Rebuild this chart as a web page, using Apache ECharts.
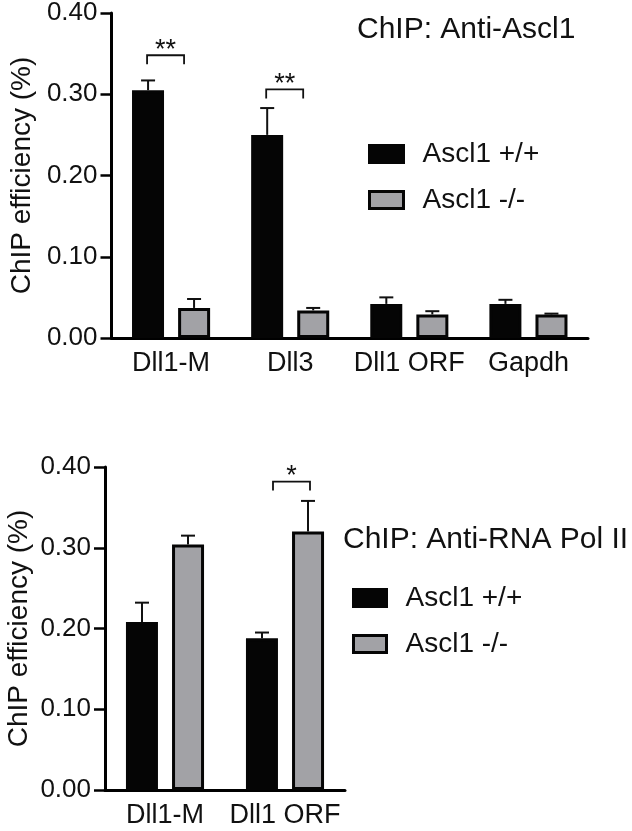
<!DOCTYPE html>
<html>
<head>
<meta charset="utf-8">
<script src="https://cdn.jsdelivr.net/npm/echarts@6/dist/echarts.min.js"></script>
<style>
  html, body { margin: 0; padding: 0; background: #fff; }
  #chart { width: 632px; height: 831px; }
</style>
</head>
<body>
<div id="chart"></div>
<script>
  // 上图：Anti-Ascl1
  var topCats = ['Dll1-M', 'Dll3', 'Dll1 ORF', 'Gapdh'];
  var topWT = [0.305, 0.250, 0.042, 0.042];
  var topWTErr = [0.012, 0.033, 0.008, 0.005];
  var topKO = [0.037, 0.034, 0.029, 0.029];
  var topKOErr = [0.011, 0.003, 0.004, 0.001];
  var topSig = [[0, 0.348, '**'], [1, 0.306, '**']];

  // 下图：Anti-RNA Pol II
  var botCats = ['Dll1-M', 'Dll1 ORF'];
  var botWT = [0.208, 0.188];
  var botWTErr = [0.024, 0.007];
  var botKO = [0.304, 0.320];
  var botKOErr = [0.011, 0.038];
  var botSig = [[1, 0.382, '*']];

  var yTicks = [0, 0.1, 0.2, 0.3, 0.4];

  var FONT = 'Liberation Sans';
  var BLACK = '#050505';
  var GRAY = '#a2a2a6';
  var BAR_W = 32;
  var BAR_OFF = 23;

  var myChart = echarts.init(document.getElementById('chart'));

  function withErr(vals, errs) {
    return vals.map(function (v, i) { return [i, v, errs[i]]; });
  }

  // 误差线（只画上半部分）
  function errRender(off) {
    return function (params, api) {
      var base = api.coord([api.value(0), api.value(1)]);
      var top = api.coord([api.value(0), api.value(1) + api.value(2)]);
      var x = base[0] + off;
      var st = { stroke: '#111', lineWidth: 2 };
      return {
        type: 'group',
        children: [
          { type: 'line', shape: { x1: x, y1: base[1], x2: x, y2: top[1] }, style: st },
          { type: 'line', shape: { x1: x - 7, y1: top[1], x2: x + 7, y2: top[1] }, style: st }
        ]
      };
    };
  }

  // 显著性标记
  function sigRender(l, r) {
    return function (params, api) {
      var p = api.coord([api.value(0), api.value(1)]);
      var y = p[1];
      var x1 = p[0] + l, x2 = p[0] + r;
      var st = { stroke: '#111', lineWidth: 1.8, fill: null };
      return {
        type: 'group',
        children: [
          { type: 'polyline', shape: { points: [[x1, y + 9], [x1, y], [x2, y], [x2, y + 9]] }, style: st },
          { type: 'text', x: (x1 + x2) / 2, y: y - 5,
            style: { text: api.value(2), fontSize: 27, fontFamily: FONT, fill: '#111', align: 'center', verticalAlign: 'middle' } }
        ]
      };
    };
  }

  function xAx(cats, gi) {
    return {
      type: 'category', gridIndex: gi, data: cats,
      axisLine: { lineStyle: { color: '#000', width: 3 } },
      axisTick: { alignWithLabel: true, interval: 0, length: 10, lineStyle: { color: '#000', width: 3 } },
      axisLabel: { interval: 0, fontSize: 27, fontFamily: FONT, color: '#111', margin: 12 }
    };
  }

  function yAx(gi) {
    return {
      type: 'value', gridIndex: gi, min: yTicks[0], max: yTicks[yTicks.length - 1], interval: 0.1,
      name: 'ChIP efficiency (%)', nameLocation: 'middle', nameGap: 72,
      nameTextStyle: { fontSize: 28, fontFamily: FONT, color: '#111' },
      axisLine: { show: true, lineStyle: { color: '#000', width: 3 } },
      axisTick: { show: true, length: 11, lineStyle: { color: '#000', width: 2.5 } },
      axisLabel: { fontSize: 26, fontFamily: FONT, color: '#111', margin: 14,
        formatter: function (v) { return v.toFixed(2); } },
      splitLine: { show: false }
    };
  }

  function bar(name, data, color, gi) {
    return {
      name: name, type: 'bar', xAxisIndex: gi, yAxisIndex: gi, data: data,
      barWidth: BAR_W, barGap: '44%',
      itemStyle: { color: color, borderColor: '#050505', borderWidth: 3 }
    };
  }

  function errSeries(data, off, gi) {
    return { type: 'custom', xAxisIndex: gi, yAxisIndex: gi, data: data, z: 3,
      renderItem: errRender(off), silent: true };
  }

  function legendOf(left, top, w) {
    return {
      left: left, top: top, orient: 'vertical', icon: 'rect',
      itemWidth: w, itemHeight: 17, itemGap: 18,
      data: ['Ascl1 +/+', 'Ascl1 -/-'],
      itemStyle: { borderColor: '#050505', borderWidth: 3 },
      textStyle: { fontSize: 28, fontFamily: FONT, color: '#111', lineHeight: 20, padding: [0, 0, 0, 14] }
    };
  }

  var option = {
    animation: false,
    backgroundColor: '#fff',
    title: [
      { text: 'ChIP: Anti-Ascl1', left: 357, top: 15, padding: 0,
        textStyle: { fontSize: 30, fontWeight: 'normal', fontFamily: FONT, color: '#111' } },
      { text: 'ChIP: Anti-RNA Pol II', left: 343, top: 525, padding: 0,
        textStyle: { fontSize: 30, fontWeight: 'normal', fontFamily: FONT, color: '#111' } }
    ],
    legend: [legendOf(363, 135, 34), legendOf(347, 579, 33)],
    grid: [
      { left: 104, top: 13, width: 484, height: 325 },
      { left: 105, top: 467, width: 240, height: 323 }
    ],
    xAxis: [xAx(topCats, 0), xAx(botCats, 1)],
    yAxis: [yAx(0), yAx(1)],
    series: [
      bar('Ascl1 +/+', topWT, BLACK, 0),
      bar('Ascl1 -/-', topKO, GRAY, 0),
      errSeries(withErr(topWT, topWTErr), -BAR_OFF, 0),
      errSeries(withErr(topKO, topKOErr), BAR_OFF, 0),
      { type: 'custom', xAxisIndex: 0, yAxisIndex: 0, data: topSig, renderItem: sigRender(-24, 13), silent: true },
      bar('Ascl1 +/+', botWT, BLACK, 1),
      bar('Ascl1 -/-', botKO, GRAY, 1),
      errSeries(withErr(botWT, botWTErr), -BAR_OFF, 1),
      errSeries(withErr(botKO, botKOErr), BAR_OFF, 1),
      { type: 'custom', xAxisIndex: 1, yAxisIndex: 1, data: botSig, renderItem: sigRender(-12, 25), silent: true }
    ]
  };
  myChart.setOption(option);
</script>
</body>
</html>
